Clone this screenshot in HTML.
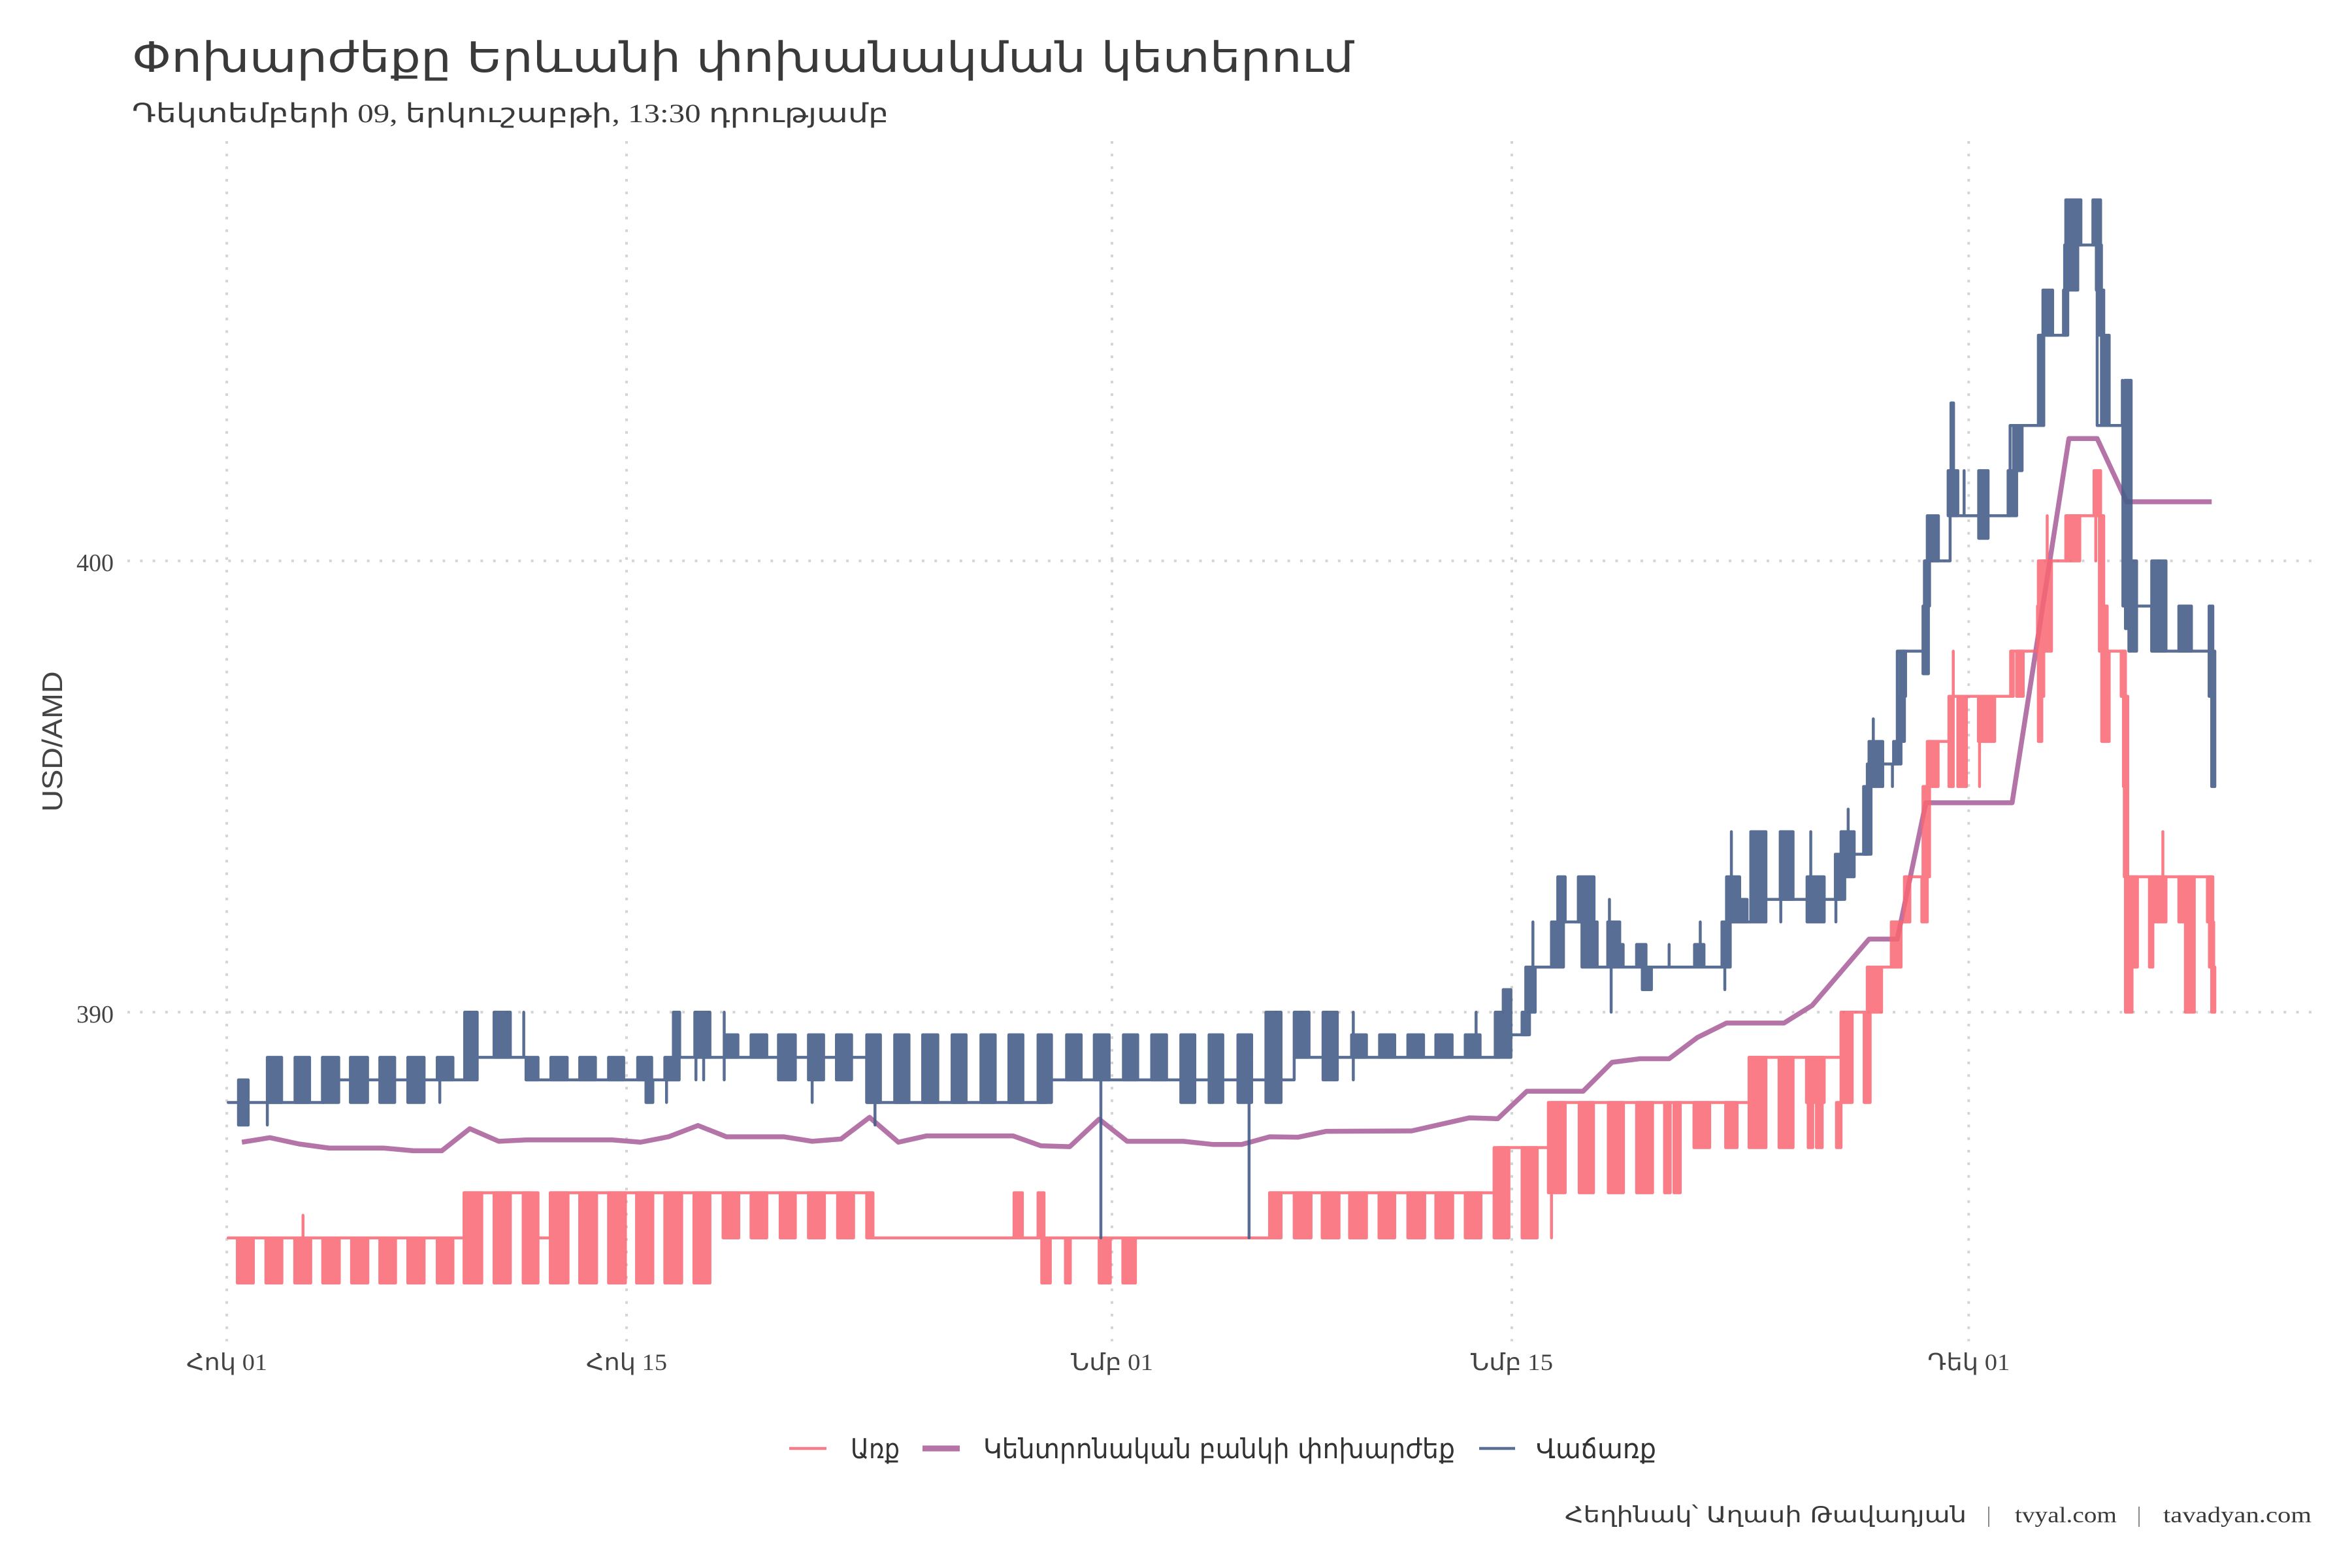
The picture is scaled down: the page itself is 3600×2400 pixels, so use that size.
<!DOCTYPE html>
<html>
<head>
<meta charset="utf-8">
<style>
html,body{margin:0;padding:0;background:#fff;}
svg{display:block;}
</style>
</head>
<body>
<svg width="3600" height="2400" viewBox="0 0 3600 2400" xmlns="http://www.w3.org/2000/svg">
<rect x="0" y="0" width="3600" height="2400" fill="#ffffff"/>

<!-- Title / subtitle -->
<text x="202" y="110" font-family="DejaVu Sans, sans-serif" font-size="64" fill="#3a3a3a" textLength="1870" lengthAdjust="spacingAndGlyphs">Փոխարժեքը Երևանի փոխանակման կետերում</text>
<text x="202" y="187" font-family="Liberation Serif, DejaVu Sans, sans-serif" font-size="40" fill="#3a3a3a" textLength="1158" lengthAdjust="spacingAndGlyphs">Դեկտեմբերի 09, երկուշաբթի, 13:30 դրությամբ</text>

<!-- Grid -->
<g stroke="#d4d4d4" stroke-width="4" stroke-dasharray="4 15.3" fill="none">
  <line x1="195" y1="858.5" x2="3541" y2="858.5"/>
  <line x1="195" y1="1549.3" x2="3541" y2="1549.3"/>
  <line x1="347.1" y1="216" x2="347.1" y2="2053"/>
  <line x1="959" y1="216" x2="959" y2="2053"/>
  <line x1="1702" y1="216" x2="1702" y2="2053"/>
  <line x1="2314" y1="216" x2="2314" y2="2053"/>
  <line x1="3013.3" y1="216" x2="3013.3" y2="2053"/>
</g>

<!-- Y axis labels -->
<g font-family="Liberation Serif, serif" font-size="38" fill="#444" text-anchor="end">
  <text x="174" y="874">400</text>
  <text x="174" y="1565">390</text>
</g>
<text transform="translate(95,1135) rotate(-90)" font-family="Liberation Sans, sans-serif" font-size="44" fill="#444" text-anchor="middle" textLength="215" lengthAdjust="spacingAndGlyphs">USD/AMD</text>

<!-- X axis labels -->
<g font-family="Liberation Serif, DejaVu Sans, sans-serif" font-size="36" fill="#444" text-anchor="middle">
  <text x="347.1" y="2097" textLength="124" lengthAdjust="spacingAndGlyphs">Հոկ 01</text>
  <text x="959" y="2097" textLength="124" lengthAdjust="spacingAndGlyphs">Հոկ 15</text>
  <text x="1702" y="2097" textLength="126" lengthAdjust="spacingAndGlyphs">Նմբ 01</text>
  <text x="2314" y="2097" textLength="126" lengthAdjust="spacingAndGlyphs">Նմբ 15</text>
  <text x="3013.3" y="2097" textLength="126" lengthAdjust="spacingAndGlyphs">Դեկ 01</text>
</g>

<!-- Data -->
<g transform="translate(347.1 1549.3) scale(43.708 -69.08)">
  <!-- Central bank (purple) -->
  <path fill="none" stroke="#b574a8" stroke-width="7.5" stroke-linejoin="round" vector-effect="non-scaling-stroke"
    d="M.53-2.88L1.51-2.78 2.53-2.92 3.58-3.01 5.49-3.01 6.54-3.07 7.53-3.07 8.51-2.58 9.52-2.86 10.48-2.83 13.5-2.83 14.49-2.88 15.47-2.76 16.5-2.51 17.5-2.76 19.5-2.76 20.5-2.86 21.51-2.81 22.51-2.33 23.52-2.88 24.51-2.74 27.53-2.74 28.51-2.96 29.52-2.98 30.55-2.37 31.53-2.86 33.5-2.86 34.53-2.93 35.54-2.93 36.52-2.76 37.51-2.77 38.49-2.64 41.49-2.63 43.52-2.34 44.51-2.36 45.53-1.75 47.5-1.75 48.51-1.11 49.5-1.03 50.51-1.03 51.5-.56 52.52-.24 54.53-.24 55.52 .15 57.51 1.62 58.5 1.62 59.5 4.64 62.52 4.64 64.51 12.71 65.5 12.71 66.53 11.31 69.51 11.31"/>

  <!-- Buy (pink) -->
  <g opacity="0.85" stroke="#f86673" stroke-width="4.5" stroke-linejoin="round" stroke-linecap="round">
    <path fill="none" vector-effect="non-scaling-stroke"
      d="M.05-5H8.31V-4H10.6V-5H11.33V-4H22.6V-5H36.52V-4H44.51V-3H46.35V-2H53.31V-1H56.53V0H57.45V1H58.63V2H58.8V3H59.4V5H59.6V6H60.31V7H62.52V8H63.44V10H64.44V11H65.58V8H66.45V3H69.5
      M2.67-5V-4.5M46.39-5V-4M60.46 7V8M61.38 5V6M63.75 10V11M65.45 10V11M67.8 3V4"/>
    <path fill="#f86673" vector-effect="non-scaling-stroke"
      d="M.37-6H.93V-5H.37Z M1.37-6H1.93V-5H1.37Z M2.38-6H2.94V-5H2.38Z M3.36-6H3.94V-5H3.36Z M4.37-6H4.94V-5H4.37Z M5.36-6H5.91V-5H5.36Z M6.34-6H6.91V-5H6.34Z M7.37-6H7.92V-5H7.37Z
      M8.31-6H8.93V-4H8.31Z M9.36-6H9.93V-4H9.36Z M10.38-6H10.9V-4H10.38Z M11.33-6H11.95V-4H11.33Z M12.36-6H12.95V-4H12.36Z M13.37-6H13.96V-4H13.37Z M14.35-6H14.92V-4H14.35Z M15.34-6H15.93V-4H15.34Z M16.36-6H16.92V-4H16.36Z
      M17.38-5H17.93V-4H17.38Z M18.36-5H18.91V-4H18.36Z M19.38-5H19.91V-4H19.38Z M20.37-5H20.93V-4H20.37Z M21.39-5H21.95V-4H21.39Z M22.41-5H22.63V-4H22.41Z
      M27.57-5H27.86V-4H27.57Z M28.41-5H28.62V-4H28.41Z M28.54-6H28.84V-5H28.54Z M29.37-6H29.54V-5H29.37Z M30.55-6H30.94V-5H30.55Z M31.38-6H31.82V-5H31.38Z
      M36.52-5H36.92V-4H36.52Z M37.38-5H37.97V-4H37.38Z M38.36-5H38.95V-4H38.36Z M39.32-5H39.91V-4H39.32Z M40.35-5H40.9V-4H40.35Z M41.36-5H41.95V-4H41.36Z M42.34-5H42.93V-4H42.34Z M43.37-5H43.92V-4H43.37Z
      M44.38-5H44.9V-3H44.38Z M45.36-5H45.89V-3H45.36Z
      M46.28-4H46.87V-2H46.28Z M47.36-4H47.86V-2H47.36Z M48.38-4H48.91V-2H48.38Z M49.37-4H49.93V-2H49.37Z M50.35-4H50.55V-2H50.35Z M50.68-4H50.9V-2H50.68Z
      M51.38-3H51.93V-2H51.38Z M52.49-3H52.89V-2H52.49Z M53.31-3H53.9V-1H53.31Z M54.36-3H54.85V-1H54.36Z
      M55.32-2H55.94V-1H55.32Z M55.38-3H55.54V-2H55.38Z M55.67-3H55.87V-2H55.67Z M56.37-3H56.53V-2H56.37Z M56.53-2H56.92V0H56.53Z
      M57.34-2H57.55V0H57.34Z M57.45 0H57.95V1H57.45Z M58.29 1H58.63V2H58.29Z M58.75 2H58.94V3H58.75Z M59.36 2H59.55V3H59.36Z M59.46 3H59.63V5H59.46Z M59.55 5H59.93V6H59.55Z
      M60.31 5H60.46V7H60.31Z M60.62 5H60.92V7H60.62Z M61.34 6H61.91V7H61.34Z M62.47 7H62.56V8H62.47Z M62.68 7H62.91V8H62.68Z
      M63.44 6H63.56V8H63.44Z M63.52 7H63.63V9H63.52Z M63.41 8H63.9V9H63.41Z M63.52 9H63.9V10H63.52Z M64.4 10H64.89V11H64.4Z
      M65.39 11H65.62V12H65.39Z M65.58 8H65.73V11H65.58Z M65.62 8H65.85V9H65.62Z M65.66 6H65.92V8H65.66Z
      M66.34 7H66.49V8H66.34Z M66.42 5H66.57V7H66.42Z M66.46 3H66.57V5H66.46Z M66.49 0H66.72V3H66.49Z M66.72 1H66.91V3H66.72Z
      M67.33 1H67.45V3H67.33Z M67.33 2H67.91V3H67.33Z M68.36 2H68.63V3H68.36Z M68.59 0H68.9V3H68.59Z
      M69.36 2H69.55V3H69.36Z M69.43 1H69.58V2H69.43Z M69.51 0H69.62V1H69.51Z"/>
  </g>

  <!-- Sell (blue) -->
  <g opacity="0.9" stroke="#485f8a" stroke-width="4.5" stroke-linejoin="round" stroke-linecap="round">
    <path fill="none" vector-effect="non-scaling-stroke"
      d="M.05-2H3.4V-1.5H8.35V-1H10.5V-1.5H15.84V-1H22.41V-2H28.71V-1.5H37.38V-1H44.57V-.5H45.56V1H46.8V2H47.46V1H52.5V2H53.37V2.5H56.5V3.5H57.45V5.5H58.5V8H59.45V10H60.35V11H62.45V13H63.5V15H64.4V17H65.5V13H66.4V9H67.41V8H69.5
      M1.42-2.5V-2M7.46-2V-1.5M10.4-1V0M15.4-2V-1.5M16.43-1.5V-1M16.7-1.5V-1M17.42-1.5V0M20.5-2V-1.5M22.7-2.5V-2
      M30.61-5V-1.5M35.8-5V-1.5M39.45-1.5V0M43.75-.5V0M45.74 1V2M48.42 2V2.5M48.48 0V1M50.51 1V1.5M51.6 1.5V2M52.46 .5V1M52.69 3V4
      M54.42 2V2.5M55.47 3V4M56.35 2V2.5M56.78 4V4.5M57.66 6V6.5M58.33 5V5.5M60.84 11V12M65.47 16V17M66.38 13V14"/>
    <path fill="#485f8a" vector-effect="non-scaling-stroke"
      d="M.41-2.5H.75V-1.5H.41Z M1.42-2H1.92V-1H1.42Z M2.39-2H2.9V-1H2.39Z M3.35-2H3.92V-1H3.35Z M4.33-2H4.93V-1H4.33Z M5.36-2H5.88V-1H5.36Z M6.34-2H6.91V-1H6.34Z M7.37-1.5H7.92V-1H7.37Z
      M8.33-1.5H8.77V0H8.33Z M9.36-1H9.93V0H9.36Z M10.48-1.5H10.9V-1H10.48Z M11.35-1.5H11.92V-1H11.35Z M12.36-1.5H12.91V-1H12.36Z M13.37-1.5H13.9V-1H13.37Z M14.39-1.5H14.88V-1H14.39Z M14.68-2H14.92V-1.5H14.68Z
      M15.34-1.5H15.84V-1H15.34Z M15.64-1H15.86V0H15.64Z M16.39-1H16.92V0H16.39Z M17.44-1H17.9V-.5H17.44Z M18.36-1H18.91V-.5H18.36Z
      M19.32-1.5H19.91V-.5H19.32Z M20.37-1.5H20.9V-.5H20.37Z M21.35-1.5H21.88V-.5H21.35Z
      M22.41-2H22.89V-.5H22.41Z M23.39-2H23.89V-.5H23.39Z M24.37-2H24.9V-.5H24.37Z M25.4-2H25.89V-.5H25.4Z M26.41-2H26.91V-.5H26.41Z M27.39-2H27.88V-.5H27.39Z M28.41-2H28.88V-.5H28.41Z
      M29.41-1.5H29.92V-.5H29.41Z M30.38-1.5H30.9V-.5H30.38Z M31.4-1.5H31.9V-.5H31.4Z M32.39-1.5H32.91V-.5H32.39Z
      M33.41-2H33.9V-.5H33.41Z M34.4-2H34.88V-.5H34.4Z M35.41-2H35.89V-.5H35.41Z M36.39-2H36.92V0H36.39Z M37.38-1H37.9V0H37.38Z M38.39-1.5H38.89V0H38.39Z
      M39.39-1H39.91V-.5H39.39Z M40.37-1H40.9V-.5H40.37Z M41.36-1H41.91V-.5H41.36Z M42.34-1H42.91V-.5H42.34Z M43.37-1H43.89V-.5H43.37Z
      M44.42-1H44.97V0H44.42Z M44.7 0H44.97V.5H44.7Z M45.36-.5H45.62V0H45.36Z M45.49 0H45.82V1H45.49Z
      M46.39 1H46.81V2H46.39Z M46.61 2H46.87V3H46.61Z M47.33 2H47.88V3H47.33Z M47.46 1H47.99V2H47.46Z
      M48.36 1H48.78V2H48.36Z M48.36 1H48.9V1.5H48.36Z M49.37 1H49.7V1.5H49.37Z M49.57 .5H49.89V1H49.57Z
      M51.4 1H51.73V1.5H51.4Z M52.36 1H52.65V2H52.36Z M52.52 2H52.98V3H52.52Z M52.98 2H53.24V2.5H52.98Z
      M53.37 2H53.9V4H53.37Z M54.4 2.5H54.85V4H54.4Z M55.34 2H55.94V3H55.34Z M56.33 2.5H56.66V3.5H56.33Z M56.53 3H56.99V4H56.53Z
      M57.32 3.5H57.58V5H57.32Z M57.51 5H57.99V6H57.51Z M58.37 5.5H58.63V6H58.37Z M58.52 6H58.75V7H58.52Z M58.6 7H58.79V8H58.6Z
      M59.4 7.5H59.59V9H59.4Z M59.47 9H59.63V10H59.47Z M59.55 10H59.94V11H59.55Z M60.28 11H60.62V12H60.28Z M60.38 12H60.47V13.5H60.38Z
      M61.35 10.5H61.68V12H61.35Z M62.38 11H62.68V12H62.38Z M62.57 12H62.87V13H62.57Z
      M63.44 13H63.63V15H63.44Z M63.6 15H63.94V16H63.6Z M64.32 15H64.47V16H64.32Z M64.36 16H64.82V17H64.36Z M64.4 17H64.93V18H64.4Z
      M65.35 17H65.62V18H65.35Z M65.54 16H65.65V17H65.54Z M65.58 15H65.73V16H65.58Z M65.65 13H65.92V15H65.65Z
      M66.46 9H66.69V14H66.46Z M66.49 8.5H66.76V10H66.49Z M66.61 8H66.88V10H66.61Z M67.41 8H67.91V10H67.41Z M68.36 8H68.8V9H68.36Z
      M69.42 7H69.55V9H69.42Z M69.51 5H69.62V8H69.51Z"/>
  </g>
</g>

<!-- Legend -->
<line x1="1208" y1="2217" x2="1265" y2="2217" stroke="#f97d88" stroke-width="4.5"/>
<text x="1302" y="2232" font-family="DejaVu Sans, sans-serif" font-size="42" fill="#333" textLength="75" lengthAdjust="spacingAndGlyphs">Առք</text>
<line x1="1412" y1="2217" x2="1469" y2="2217" stroke="#b574a8" stroke-width="9"/>
<text x="1505" y="2232" font-family="DejaVu Sans, sans-serif" font-size="42" fill="#333" textLength="722" lengthAdjust="spacingAndGlyphs">Կենտրոնական բանկի փոխարժեք</text>
<line x1="2264" y1="2217" x2="2319" y2="2217" stroke="#5a6f96" stroke-width="4.5"/>
<text x="2351" y="2232" font-family="DejaVu Sans, sans-serif" font-size="42" fill="#333" textLength="184" lengthAdjust="spacingAndGlyphs">Վաճառք</text>

<!-- Caption -->
<g font-size="34" fill="#3a3a3a">
  <text x="2395" y="2330" font-family="DejaVu Sans, sans-serif" textLength="615" lengthAdjust="spacingAndGlyphs">Հեղինակ՝ Աղասի Թավադյան</text>
  <text x="3044" y="2330" font-family="Liberation Serif, serif" text-anchor="middle" fill="#777">|</text>
  <text x="3084" y="2330" font-family="Liberation Serif, serif" textLength="156" lengthAdjust="spacingAndGlyphs">tvyal.com</text>
  <text x="3274" y="2330" font-family="Liberation Serif, serif" text-anchor="middle" fill="#777">|</text>
  <text x="3311" y="2330" font-family="Liberation Serif, serif" textLength="227" lengthAdjust="spacingAndGlyphs">tavadyan.com</text>
</g>
</svg>
</body>
</html>
